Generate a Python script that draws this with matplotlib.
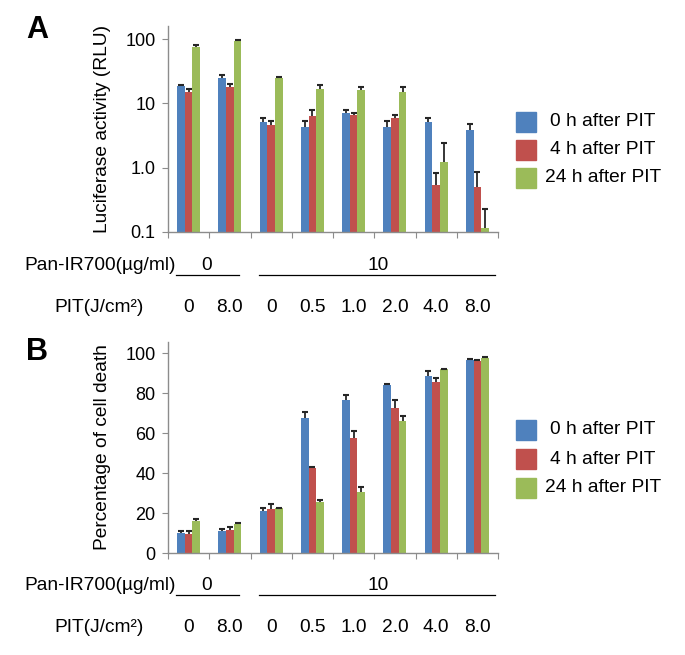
import numpy as np
import matplotlib
matplotlib.use("Agg")
import matplotlib.pyplot as plt
from matplotlib.lines import Line2D
from matplotlib.patches import Rectangle
import matplotlib.transforms as mtransforms

plt.rcParams['font.family'] = ['Liberation Sans', 'DejaVu Sans']

# --------------------------------------------------------------------------- #
# Data
# --------------------------------------------------------------------------- #
series = ["0 h after PIT", "4 h after PIT", "24 h after PIT"]
colors = ["#4F81BD", "#C0504D", "#9BBB59"]
pan_groups = ["0", "10"]
pit_labels = ["0", "8.0", "0", "0.5", "1.0", "2.0", "4.0", "8.0"]

# Panel A: luciferase activity (RLU), log scale
luc_0h = [18.6, 25.0, 5.1, 4.3, 7.2, 4.3, 5.2, 3.8]
luc_0h_err = [1.0, 3.0, 0.8, 1.1, 0.6, 1.1, 0.8, 1.0]
luc_4h = [15.0, 18.0, 4.6, 6.3, 6.5, 6.0, 0.54, 0.51]
luc_4h_err = [1.5, 2.0, 0.7, 1.7, 0.5, 0.7, 0.30, 0.36]
luc_24h = [75.0, 93.0, 24.5, 17.0, 16.0, 15.0, 1.22, 0.117]
luc_24h_err = [5.0, 3.0, 1.5, 2.5, 2.0, 3.0, 1.2, 0.11]

# Panel B: percentage of cell death
death_0h = [10.0, 11.2, 20.8, 67.3, 76.3, 83.8, 88.3, 96.7]
death_0h_err = [0.8, 0.6, 1.5, 3.2, 2.5, 0.9, 2.5, 0.3]
death_4h = [9.7, 11.3, 22.2, 42.7, 57.5, 72.5, 85.5, 96.0]
death_4h_err = [1.1, 1.7, 2.5, 0.2, 3.7, 3.8, 1.8, 0.4]
death_24h = [16.0, 14.7, 22.3, 25.5, 30.5, 65.8, 91.8, 97.7]
death_24h_err = [1.2, 0.5, 0.4, 1.0, 2.5, 2.5, 0.3, 0.2]

W, H = 685, 655
FS = 13.8  # body text size
fig = plt.figure(figsize=(W / 100, H / 100), dpi=100)


def fy(py):
    return 1 - py / H


def fx(px):
    return px / W


def bar_panel(ax, vals, errs):
    x = np.arange(len(pit_labels))
    bw = 0.187
    for k, (v, e) in enumerate(zip(vals, errs)):
        v = np.asarray(v)
        top = v + np.asarray(e)
        xs = x + (k - 1) * bw
        ax.bar(xs, v, width=bw, color=colors[k], zorder=2)
        ax.vlines(xs, v, top, color="#262626", lw=1.3, zorder=3)
        ax.plot(xs, top, ls="none", marker="_", ms=5, mew=1.5,
                color="#262626", zorder=3)
    ax.set_xlim(-0.5, len(pit_labels) - 0.5)
    ax.set_xticks(np.arange(-0.5, len(pit_labels)))
    ax.set_xticklabels([])
    for s in ("top", "right"):
        ax.spines[s].set_visible(False)
    for s in ("left", "bottom"):
        ax.spines[s].set_color("#8c8c8c")
        ax.spines[s].set_linewidth(1.0)
    ax.tick_params(axis="both", direction="out", length=4, color="#8c8c8c",
                   labelsize=13, pad=5)
    ax.tick_params(axis="y", which="minor", length=0)


def under_rows(ax, y_pan, y_line, y_pit):
    trans = mtransforms.blended_transform_factory(ax.transData, fig.transFigure)
    fig.text(fx(176), fy(y_pan), "Pan-IR700(\u00b5g/ml)", ha="right",
             va="center", fontsize=FS)
    fig.text(fx(207), fy(y_pan), pan_groups[0], ha="center", va="center",
             fontsize=FS)
    fig.text(fx(378), fy(y_pan), pan_groups[1], ha="center", va="center",
             fontsize=FS)
    for x0, x1 in ((176, 239), (259, 495)):
        fig.add_artist(Line2D([fx(x0), fx(x1)], [fy(y_line), fy(y_line)],
                              color="black", lw=0.9))
    fig.text(fx(99), fy(y_pit), "PIT(J/cm\u00b2)", ha="center", va="center",
             fontsize=FS)
    for i, lab in enumerate(pit_labels):
        ax.text(i, fy(y_pit), lab, transform=trans, ha="center", va="center",
                fontsize=FS)


def legend_block(ys):
    for k, y in enumerate(ys):
        fig.add_artist(Rectangle((fx(516), fy(y + 10)), 20 / W, 20 / H,
                                 color=colors[k], transform=fig.transFigure))
        fig.text(fx(603), fy(y), series[k], ha="center", va="center",
                 fontsize=FS)


# --------------------------------------------------------------------------- #
# Panel A
# --------------------------------------------------------------------------- #
axA = fig.add_axes([fx(168), fy(232), (498 - 168) / W, (232 - 26) / H])
bar_panel(axA, [luc_0h, luc_4h, luc_24h], [luc_0h_err, luc_4h_err, luc_24h_err])
axA.set_yscale("log")
axA.set_ylim(0.1, 160)
axA.set_yticks([0.1, 1, 10, 100])
axA.set_yticklabels(["0.1", "1.0", "10", "100"])
axA.minorticks_off()
axA.set_ylabel("Luciferase activity (RLU)", fontsize=FS)
axA.yaxis.set_label_coords((111 - 168) / (498 - 168), 0.5)
under_rows(axA, 265, 275, 307)
legend_block([122, 150, 178])
fig.text(fx(37), fy(30), "A", ha="center", va="center", fontsize=22,
         fontweight="bold")

# --------------------------------------------------------------------------- #
# Panel B
# --------------------------------------------------------------------------- #
axB = fig.add_axes([fx(168), fy(553), (498 - 168) / W, (553 - 342) / H])
bar_panel(axB, [death_0h, death_4h, death_24h],
          [death_0h_err, death_4h_err, death_24h_err])
axB.set_ylim(0, 105.5)
axB.set_yticks([0, 20, 40, 60, 80, 100])
axB.set_ylabel("Percentage of cell death", fontsize=FS)
axB.yaxis.set_label_coords((111 - 168) / (498 - 168), 0.5)
under_rows(axB, 585, 595, 627)
legend_block([430, 459, 488])
fig.text(fx(37), fy(352), "B", ha="center", va="center", fontsize=22,
         fontweight="bold")

fig.savefig("out.png", dpi=100)
